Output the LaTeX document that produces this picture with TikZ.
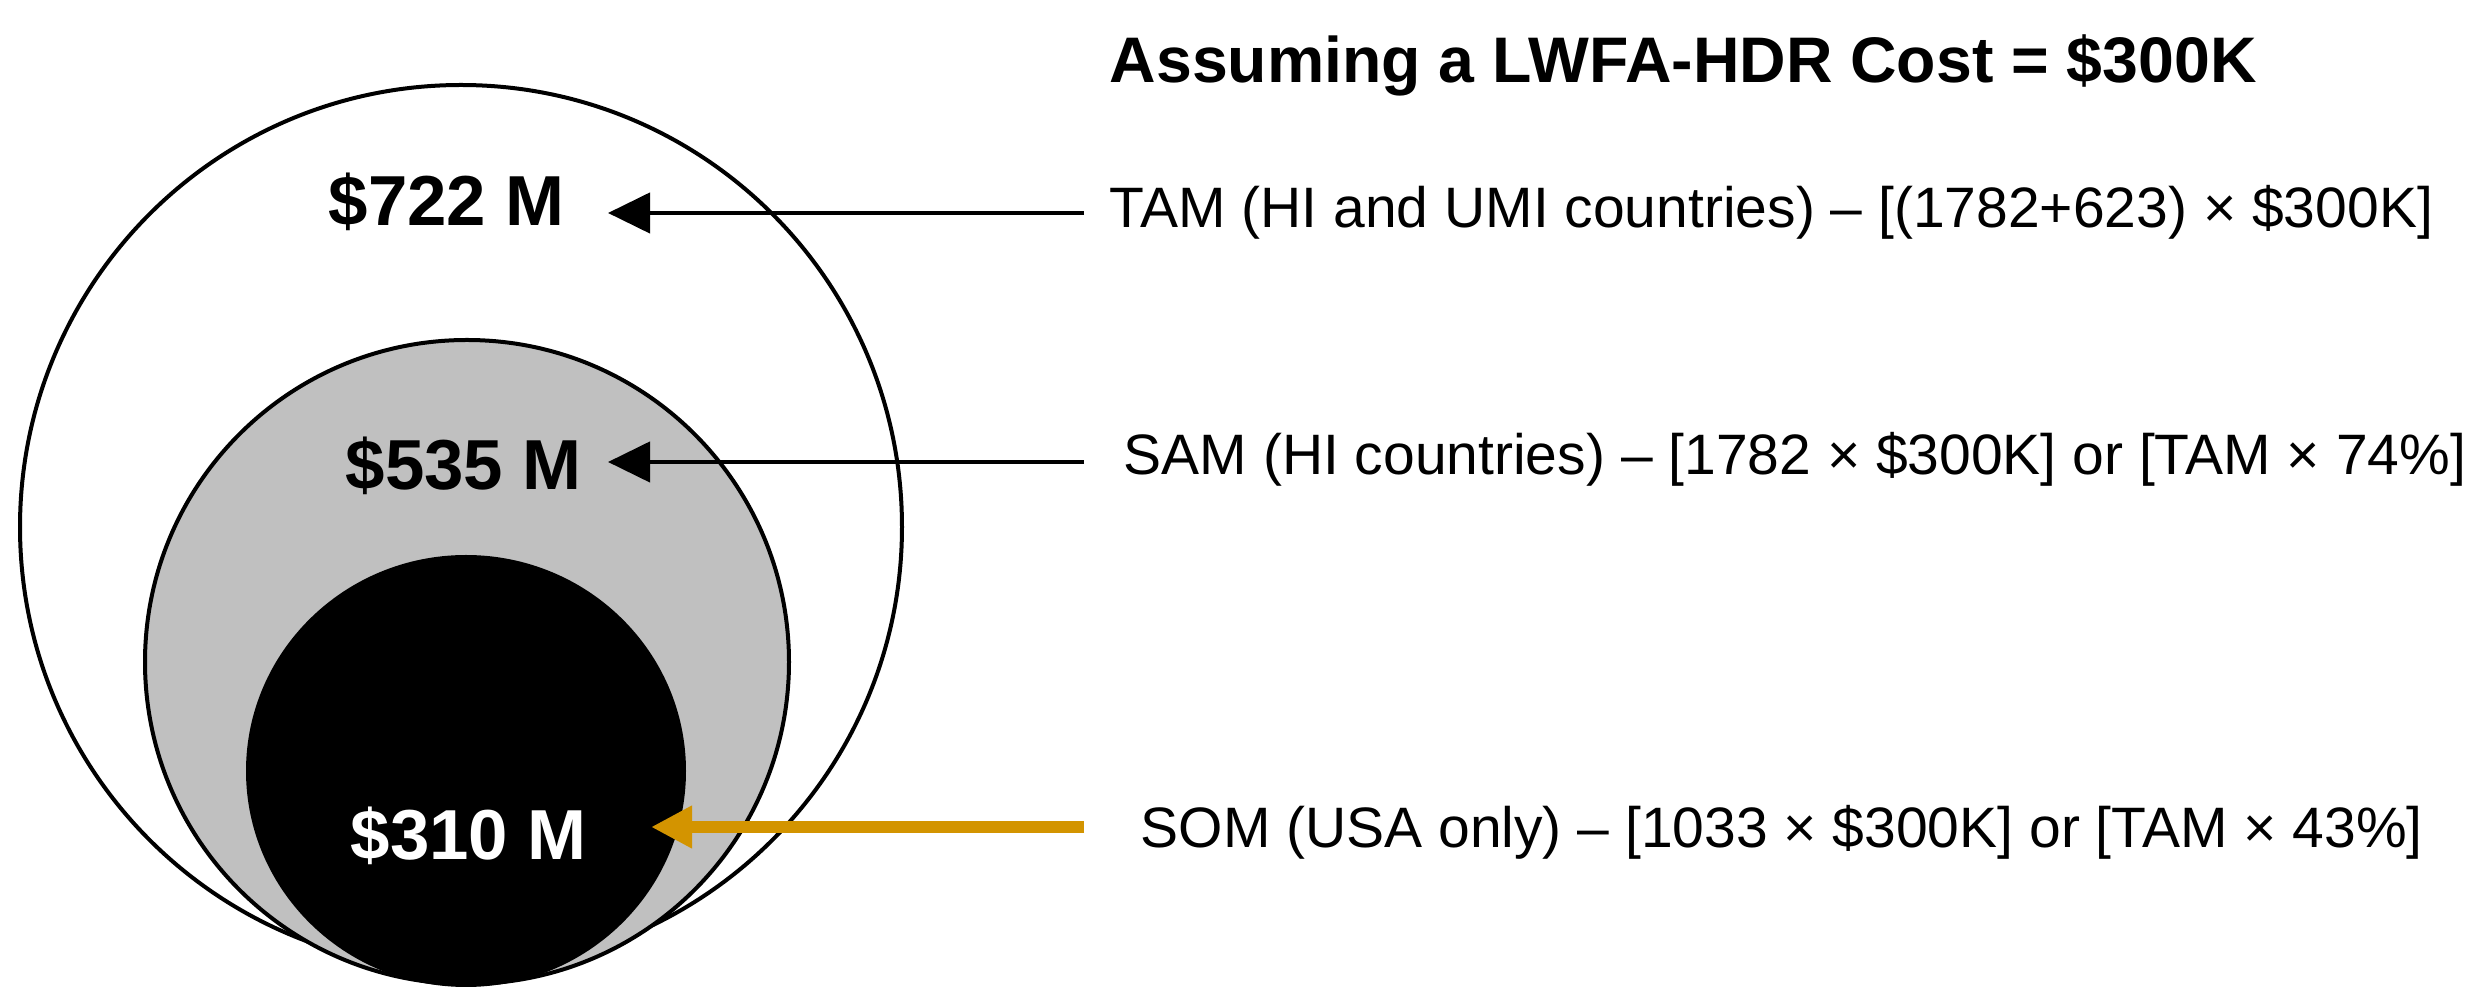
\documentclass[tikz,border=0pt]{standalone}
\usepackage{fontspec}
\setmainfont{Liberation Sans}
\usetikzlibrary{arrows.meta}
\definecolor{goldarrow}{RGB}{211,148,0}
\definecolor{samgrey}{RGB}{192,192,192}
\begin{document}
\begin{tikzpicture}[x=0.25pt,y=-0.25pt,
  ring/.style={draw=black,line width=1pt},
  body/.style={anchor=base west,inner sep=0pt,font=\fontsize{14.25}{17}\selectfont},
  value/.style={anchor=base west,inner sep=0pt,font=\bfseries\fontsize{17.7}{21}\selectfont},
  title/.style={anchor=base west,inner sep=0pt,font=\bfseries\fontsize{16.1}{19}\selectfont},
  blackarrow/.style={draw=black,line width=1.1pt,-{Triangle[length=10.5pt,width=10pt]}},
  goldarr/.style={draw=goldarrow,line width=3pt,-{Triangle[length=10.25pt,width=10pt]}}]
\useasboundingbox (0,0) rectangle (2488,1003);
% circles
\path[ring,fill=white] (461,527) ellipse[x radius=441,y radius=442];
\path[ring,fill=samgrey] (467,662) circle[radius=322];
\path[fill=black] (466,771) ellipse[x radius=220,y radius=216];
% title
\node[title] (ttl) at (1109,83) {Assuming a LWFA-HDR Cost = \$300K};
% value labels
\node[value] (v722) at (328,226) {\$722 M};
\node[value] (v535) at (345,490) {\$535 M};
\node[value,text=white] (v310) at (350,860) {\$310 M};
% descriptions
\node[body] (tam) at (1109,228) {TAM (HI and UMI countries) – [(1782+623) × \$300K]};
\node[body] (sam) at (1123,475) {SAM (HI countries) – [1782 × \$300K] or [TAM × 74\%]};
\node[body] (som) at (1140,848) {SOM (USA only) – [1033 × \$300K] or [TAM × 43\%]};
% arrow end points
\coordinate (tamS) at (1084,213);
\coordinate (tamE) at (608,213);
\coordinate (samS) at (1084,462);
\coordinate (samE) at (608,462);
\coordinate (somS) at (1084,827);
\coordinate (somE) at (651,827);
\draw[blackarrow] (tamS) -- (tamE);
\draw[blackarrow] (samS) -- (samE);
\draw[goldarr] (somS) -- (somE);
\end{tikzpicture}
\end{document}
